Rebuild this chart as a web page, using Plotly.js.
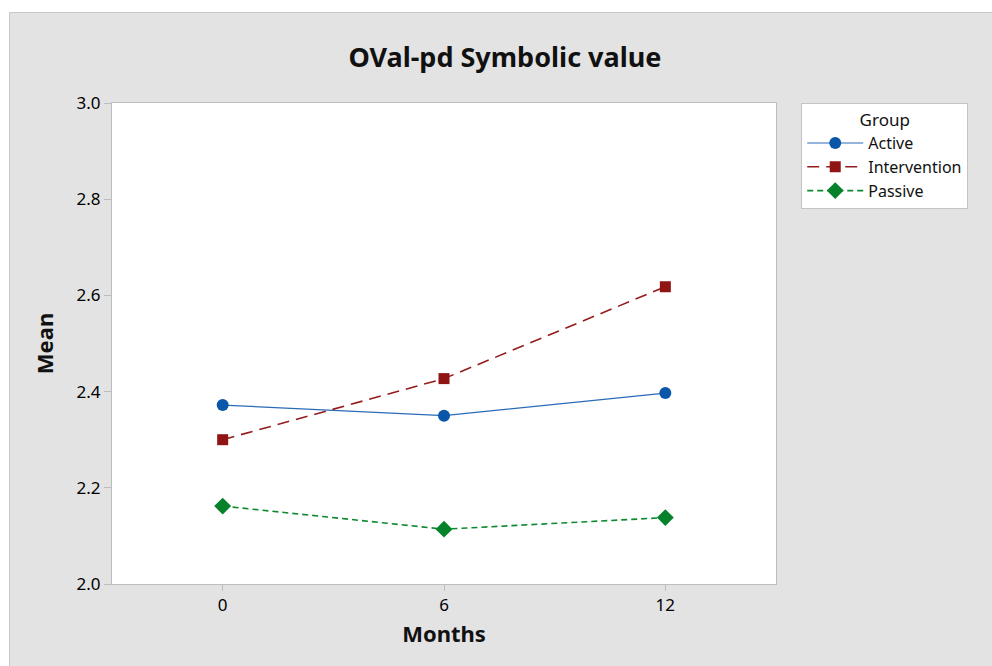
<!DOCTYPE html>
<html>
<head>
<meta charset="utf-8">
<script src="https://cdn.plot.ly/plotly-3.0.1.min.js"></script>
<style>
  html, body { margin: 0; padding: 0; background: #ffffff; }
  #bg { position: absolute; left: 9px; top: 12px; width: 983px; height: 654px;
        background: #e3e3e3; border-top: 1px solid #c9c9c9; border-left: 1px solid #c9c9c9; box-sizing: border-box; }
  #chart { position: absolute; left: 0; top: 0; width: 992px; height: 666px; }
</style>
</head>
<body>
<div id="bg"></div>
<div id="chart"></div>
<script>
const months = ['0', '6', '12'];
const activeMean = [2.372, 2.350, 2.397];
const interventionMean = [2.300, 2.427, 2.618];
const passiveMean = [2.162, 2.114, 2.138];
const yTicks = [2.0, 2.2, 2.4, 2.6, 2.8, 3.0];

const FONT = '"Noto Sans", "Open Sans", sans-serif';

const traces = [
  {
    x: months, y: activeMean, name: 'Active', type: 'scatter', mode: 'lines+markers',
    line: { color: '#2a6bb8', width: 1.2 },
    marker: { symbol: 'circle', size: 12, color: '#0a56a8' }
  },
  {
    x: months, y: interventionMean, name: 'Intervention', type: 'scatter', mode: 'lines+markers',
    line: { color: '#951c1c', width: 1.6, dash: '12px,7px' },
    marker: { symbol: 'square', size: 11, color: '#901414' }
  },
  {
    x: months, y: passiveMean, name: 'Passive', type: 'scatter', mode: 'lines+markers',
    line: { color: '#0d8a2e', width: 1.6, dash: '6px,4px' },
    marker: { symbol: 'diamond', size: 13, color: '#06822a' }
  }
];

const layout = {
  width: 992, height: 666,
  paper_bgcolor: 'rgba(0,0,0,0)',
  plot_bgcolor: '#ffffff',
  margin: { l: 112, r: 216, t: 103, b: 82, pad: 0 },
  font: { family: FONT, color: '#000000', size: 16 },
  title: {
    text: '<b>OVal-pd Symbolic value</b>',
    font: { family: FONT, size: 27, color: '#111111' },
    x: 0.509, xref: 'container', xanchor: 'center',
    y: 0.913, yref: 'container', yanchor: 'middle'
  },
  xaxis: {
    type: 'category',
    range: [-0.5, 2.5],
    tickvals: months,
    ticktext: months,
    showline: true, mirror: true, linecolor: '#bdbdbd', linewidth: 1,
    ticks: 'outside', ticklen: 6, tickcolor: '#bdbdbd', tickwidth: 1,
    showgrid: false, zeroline: false,
    tickfont: { family: FONT, size: 17, color: '#000' },
    title: { text: '<b>Months</b>', font: { family: FONT, size: 22, color: '#111' }, standoff: 11 }
  },
  yaxis: {
    range: [2.0, 3.0],
    tickvals: yTicks,
    tickformat: '.1f',
    showline: true, mirror: true, linecolor: '#bdbdbd', linewidth: 1,
    ticks: 'outside', ticklen: 7, tickcolor: '#bdbdbd', tickwidth: 1,
    showgrid: false, zeroline: false,
    tickfont: { family: FONT, size: 17, color: '#000' },
    title: { text: '<b>Mean</b>', font: { family: FONT, size: 22, color: '#111' }, standoff: 16 }
  },
  showlegend: true,
  legend: {
    x: 1.038, xanchor: 'left', y: 1.0, yanchor: 'top',
    bgcolor: '#ffffff', bordercolor: '#c4c4c4', borderwidth: 1,
    font: { family: FONT, size: 16, color: '#111' },
    title: { text: 'Group', side: 'top center', font: { family: FONT, size: 17, color: '#111' } },
    tracegroupgap: 0, itemwidth: 56,
    entrywidth: 112, entrywidthmode: 'pixels'
  }
};

Plotly.newPlot('chart', traces, layout, { displayModeBar: false, staticPlot: true });
</script>
</body>
</html>
